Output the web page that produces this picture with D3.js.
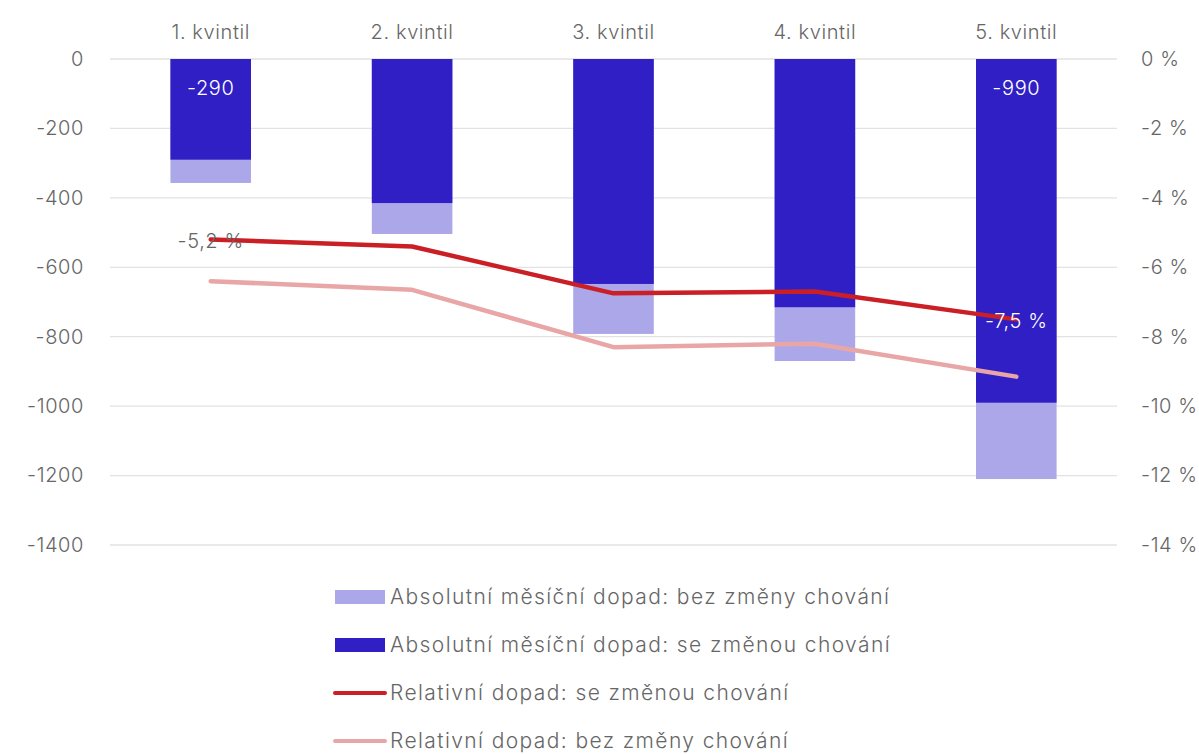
<!DOCTYPE html>
<html><head><meta charset="utf-8">
<script src="https://cdn.jsdelivr.net/npm/d3@7"></script>
<style>
html,body{margin:0;padding:0;background:#fff;}
svg{display:block;font-family:"Inter",sans-serif;font-weight:300;}
</style></head>
<body><svg id="c" width="1199" height="754"></svg>
<script>
const categories = ["1. kvintil","2. kvintil","3. kvintil","4. kvintil","5. kvintil"];
const absBez = [-357, -504, -792, -870, -1210];
const absSe = [-290, -415, -648, -715, -990];
const relSe = [-5.2, -5.4, -6.75, -6.7, -7.5];
const relBez = [-6.4, -6.65, -8.3, -8.2, -9.15];
const leftTicks = [0,-200,-400,-600,-800,-1000,-1200,-1400];
const rightTicks = [0,-2,-4,-6,-8,-10,-12,-14];
const legendLabels = ["Absolutní měsíční dopad: bez změny chování","Absolutní měsíční dopad: se změnou chování","Relativní dopad: se změnou chování","Relativní dopad: bez změny chování"];

const FONT = "Inter", FS = 20, LS = "0.6px";
const C = {light:"#aca7e8", dark:"#2f1fc5", red:"#cb1f26", pink:"#e9a6a6", text:"#666666", grid:"#e2e2e2"};
const svg = d3.select("#c");
const L=110, R=1117, T=59, B=545;
const x = d3.scaleBand().domain(categories).range([L,R]).paddingInner(0.6).paddingOuter(0.3);
const y = d3.scaleLinear().domain([0,-1400]).range([T,B]);
const y2 = d3.scaleLinear().domain([0,-14]).range([T,B]);

function styleText(sel){ return sel.attr("fill",C.text).attr("font-size",FS).attr("font-family",FONT).attr("font-weight",300).style("letter-spacing",LS); }

// grid
svg.append("g").selectAll("line").data(leftTicks).join("line")
  .attr("x1",L).attr("x2",R).attr("y1",d=>y(d)).attr("y2",d=>y(d))
  .attr("stroke",C.grid).attr("stroke-width",1.3);

// left axis
const ax = svg.append("g").attr("transform",`translate(${L},0)`)
  .call(d3.axisLeft(y).tickValues(leftTicks).tickSize(0).tickPadding(26).tickFormat(d=>String(d)));
ax.select(".domain").remove();
styleText(ax.selectAll("text"));

// right axis
const ax2 = svg.append("g").attr("transform",`translate(${R},0)`)
  .call(d3.axisRight(y2).tickValues(rightTicks).tickSize(0).tickPadding(24).tickFormat(d=>String(d)+" %"));
ax2.select(".domain").remove();
styleText(ax2.selectAll("text"));

// top category labels
const ax3 = svg.append("g").attr("transform",`translate(0,${T})`)
  .call(d3.axisTop(x).tickSize(0).tickPadding(20));
ax3.select(".domain").remove();
styleText(ax3.selectAll("text"));

// bars
svg.append("g").selectAll("rect").data(absBez).join("rect")
  .attr("x",(d,i)=>x(categories[i])).attr("width",x.bandwidth())
  .attr("y",y(0)).attr("height",d=>y(d)-y(0)).attr("fill",C.light);
svg.append("g").selectAll("rect").data(absSe).join("rect")
  .attr("x",(d,i)=>x(categories[i])).attr("width",x.bandwidth())
  .attr("y",y(0)).attr("height",d=>y(d)-y(0)).attr("fill",C.dark);

const cx = i => x(categories[i]) + x.bandwidth()/2;
const line = d3.line().x((d,i)=>cx(i)).y(d=>y2(d));
svg.append("path").datum(relBez).attr("d",line).attr("fill","none")
  .attr("stroke",C.pink).attr("stroke-width",4.5).attr("stroke-linecap","round").attr("stroke-linejoin","round");
svg.append("path").datum(relSe).attr("d",line).attr("fill","none")
  .attr("stroke",C.red).attr("stroke-width",4.5).attr("stroke-linecap","round").attr("stroke-linejoin","round");

// data labels
const fmtNum = v => String(v);
const fmtPct = v => String(v).replace(".",",") + " %";
[0,4].forEach(i=>{
  styleText(svg.append("text").attr("x",cx(i)).attr("y",y(0)+36).attr("text-anchor","middle").text(fmtNum(absSe[i]))).attr("fill","#ffffff");
});
styleText(svg.append("text").attr("x",cx(0)).attr("y",y2(relSe[0])+8).attr("text-anchor","middle").text(fmtPct(relSe[0])));
styleText(svg.append("text").attr("x",cx(4)).attr("y",y2(relSe[4])+9).attr("text-anchor","middle").text(fmtPct(relSe[4]))).attr("fill","#ffffff");

// legend
const lg = svg.append("g");
const rowY = [597, 645, 693, 741];
lg.append("rect").attr("x",335).attr("y",rowY[0]-7).attr("width",50).attr("height",14).attr("fill",C.light);
lg.append("rect").attr("x",335).attr("y",rowY[1]-7).attr("width",50).attr("height",14).attr("fill",C.dark);
lg.append("line").attr("x1",335).attr("x2",385).attr("y1",rowY[2]).attr("y2",rowY[2]).attr("stroke",C.red).attr("stroke-width",4).attr("stroke-linecap","round");
lg.append("line").attr("x1",335).attr("x2",385).attr("y1",rowY[3]).attr("y2",rowY[3]).attr("stroke",C.pink).attr("stroke-width",4).attr("stroke-linecap","round");
styleText(lg.selectAll("text").data(legendLabels).join("text")
  .attr("x",390).attr("y",(d,i)=>rowY[i]).attr("dy","0.35em").text(d=>d))
  .attr("font-size",21).style("letter-spacing","1.4px");
</script></body></html>
